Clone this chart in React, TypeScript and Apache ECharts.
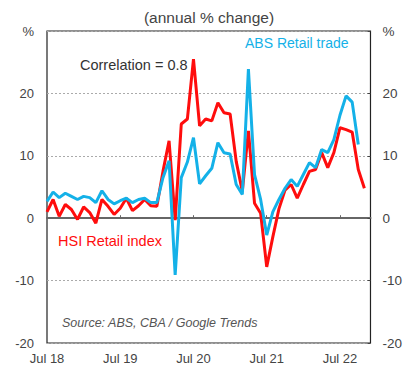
import React, { useEffect, useRef } from "react";
import * as echarts from "echarts";

const months = [
  "Jul 18","Aug 18","Sep 18","Oct 18","Nov 18","Dec 18",
  "Jan 19","Feb 19","Mar 19","Apr 19","May 19","Jun 19","Jul 19","Aug 19","Sep 19","Oct 19","Nov 19","Dec 19",
  "Jan 20","Feb 20","Mar 20","Apr 20","May 20","Jun 20","Jul 20","Aug 20","Sep 20","Oct 20","Nov 20","Dec 20",
  "Jan 21","Feb 21","Mar 21","Apr 21","May 21","Jun 21","Jul 21","Aug 21","Sep 21","Oct 21","Nov 21","Dec 21",
  "Jan 22","Feb 22","Mar 22","Apr 22","May 22","Jun 22","Jul 22","Aug 22","Sep 22","Oct 22","Nov 22","Dec 22",
];

const hsiRetail = [
  1.0, 3.0, 0.3, 2.2, 1.4, -0.2,
  1.8, 0.9, -0.8, 3.0, 1.9, 0.6, 1.6, 3.2, 1.2, 2.0, 3.0, 2.0,
  1.9, 7.5, 12.4, -0.3, 15.1, 15.9, 25.5, 14.8, 15.9, 15.6, 18.5, 16.9,
  16.7, 9.1, 4.3, 14.0, 2.4, 0.8, -7.8, -3.0, 1.5, 4.5, 5.4, 3.2,
  5.4, 7.5, 7.8, 10.5, 8.1, 10.5, 14.5, 14.2, 13.8, 7.8, 4.8,
];

const absRetail = [
  2.7, 4.2, 3.3, 4.0, 3.5, 3.0,
  3.5, 3.3, 2.5, 4.4, 3.0, 2.3, 2.8, 3.2, 2.5, 3.0, 3.2, 2.5,
  2.5, 6.5, 9.2, -9.1, 6.5, 9.0, 12.9, 5.5, 6.8, 8.0, 12.1, 10.5,
  10.3, 5.4, 3.8, 23.9, 7.0, 3.0, -2.7, 1.0, 3.0, 4.8, 6.2, 5.1,
  7.0, 8.9, 8.1, 11.0, 10.5, 12.6, 16.5, 19.6, 18.6, 11.8,
];

const yTicks = [-20, -10, 0, 10, 20, 30];

const FONT = "Liberation Sans, Arial, sans-serif";
const RED = "#ff0d0d";
const BLUE = "#14b1e8";
const TEXT = "#444";

export default function App() {
  const ref = useRef<HTMLDivElement>(null);
  useEffect(() => {
    if (!ref.current) return;
    const chart = echarts.init(ref.current, undefined, { renderer: "svg" });
    const yLabel = (v: number) => (v === yTicks[yTicks.length - 1] ? "%" : String(v));
    chart.setOption({
      animation: false,
      textStyle: { fontFamily: FONT },
      grid: {
        left: 47, right: 34, top: 31, bottom: 22,
        show: true, borderColor: "#222", borderWidth: 1.2, backgroundColor: "transparent",
      },
      xAxis: [
        {
          type: "category",
          data: months,
          boundaryGap: false,
          position: "bottom",
          axisLine: { show: false, onZero: false },
          axisTick: { show: false },
          splitLine: { show: false },
          axisLabel: {
            interval: (i: number) => i % 12 === 0,
            color: TEXT, fontSize: 13, fontFamily: FONT, margin: 9,
          },
        },
        {
          type: "category",
          data: months,
          boundaryGap: false,
          position: "bottom",
          axisLine: { show: true, onZero: true, lineStyle: { color: "#666", width: 2 } },
          axisTick: {
            show: true, inside: true, length: 3,
            interval: (i: number) => i % 12 === 0 && i > 0,
            lineStyle: { color: "#666", width: 1 },
          },
          axisLabel: { show: false },
          splitLine: { show: false },
        },
      ],
      yAxis: [
        {
          type: "value", min: -20, max: 30, interval: 10, position: "left",
          axisLine: { show: false }, axisTick: { show: false },
          splitLine: { show: true, lineStyle: { color: "#aaa", type: [2, 2], width: 1 } },
          axisLabel: { formatter: yLabel, color: TEXT, fontSize: 13, fontFamily: FONT, margin: 13 },
        },
        {
          type: "value", min: -20, max: 30, interval: 10, position: "right",
          axisLine: { show: false },
          axisTick: { show: true, inside: true, length: 3, lineStyle: { color: "#444" } },
          splitLine: { show: false },
          axisLabel: { formatter: yLabel, color: TEXT, fontSize: 13.5, fontFamily: FONT, margin: 12 },
        },
      ],
      series: [
        {
          name: "HSI Retail index", type: "line", data: hsiRetail,
          xAxisIndex: 0, yAxisIndex: 0, symbol: "none",
          lineStyle: { color: RED, width: 3 }, itemStyle: { color: RED }, z: 3,
        },
        {
          name: "ABS Retail trade", type: "line", data: absRetail,
          xAxisIndex: 0, yAxisIndex: 0, symbol: "none",
          lineStyle: { color: BLUE, width: 3 }, itemStyle: { color: BLUE }, z: 4,
        },
      ],
      graphic: [
        { type: "text", x: 209, y: 9, style: { text: "(annual % change)", fill: TEXT, font: `15.5px ${FONT}`, align: "center" } },
        { type: "text", x: 245, y: 36, style: { text: "ABS Retail trade", fill: BLUE, font: `14px ${FONT}` } },
        { type: "text", x: 80, y: 57, style: { text: "Correlation = 0.8", fill: "#333", font: `14.5px ${FONT}` } },
        { type: "text", x: 58, y: 233, style: { text: "HSI Retail index", fill: RED, font: `14.5px ${FONT}` } },
        { type: "text", x: 62, y: 316, style: { text: "Source: ABS, CBA / Google Trends", fill: "#555", font: `italic 12.5px ${FONT}` } },
      ],
    });
    return () => chart.dispose();
  }, []);
  return (
    <div
      ref={ref}
      style={{ position: "fixed", left: 0, top: 0, width: 405, height: 365, background: "#fff" }}
    />
  );
}
